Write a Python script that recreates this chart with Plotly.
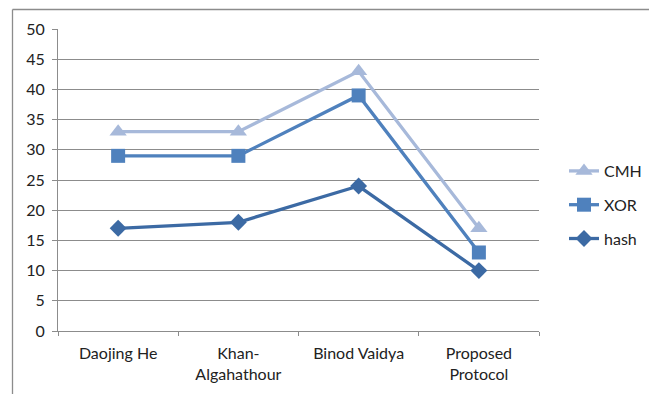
import plotly.graph_objects as go

categories = ["Daojing He", "Khan-<br>Algahathour", "Binod Vaidya", "Proposed<br>Protocol"]
cmh = [33, 33, 43, 17]
xor = [29, 29, 39, 13]
hash_vals = [17, 18, 24, 10]

FONT = "Lato, Calibri, Carlito, sans-serif"
W, H = 649, 394
ML, MR, MT, MB = 58, 110, 29, 63
PW, PH = W - ML - MR, H - MT - MB

series = [
    ("CMH", cmh, "#A7B9DA", "triangle-up", 15),
    ("XOR", xor, "#4F81BD", "square", 14),
    ("hash", hash_vals, "#3C6AA4", "diamond", 13),
]

fig = go.Figure()
for i, (name, vals, color, symbol, msize) in enumerate(series):
    fig.add_trace(go.Scatter(
        x=categories, y=vals, name=name, mode="lines+markers",
        line=dict(color=color, width=3.3),
        marker=dict(symbol=symbol, size=msize, color=color),
        legendgroup=f"g{i}",
    ))


def px_x(px):
    return (px - ML) / PW


def px_y(py):
    return (H - MB - py) / PH


# outer chart frame (left and top edges)
fig.add_shape(type="line", xref="paper", yref="paper",
              x0=px_x(12.5), x1=px_x(660), y0=px_y(9.5), y1=px_y(9.5),
              line=dict(color="#8c8c8c", width=1.3))
fig.add_shape(type="line", xref="paper", yref="paper",
              x0=px_x(12.5), x1=px_x(12.5), y0=px_y(9.5), y1=px_y(400),
              line=dict(color="#8c8c8c", width=1.3))

fig.update_layout(
    width=W, height=H,
    margin=dict(l=ML, r=MR, t=MT, b=MB, autoexpand=False),
    paper_bgcolor="white", plot_bgcolor="white",
    font=dict(family=FONT, size=16, color="#222222"),
    showlegend=True,
    legend=dict(xref="container", yref="container",
                x=564 / W, y=1 - 154 / H, xanchor="left", yanchor="top",
                tracegroupgap=10, traceorder="grouped",
                font=dict(family=FONT, size=16, color="#222222"),
                itemwidth=30, bgcolor="rgba(0,0,0,0)"),
    xaxis=dict(
        type="category", range=[-0.5, 3.5],
        showline=True, linecolor="#8c8c8c", linewidth=1,
        ticks="outside", tickson="boundaries", ticklen=4, tickcolor="#8c8c8c",
        ticklabelstandoff=8,
        showgrid=False, zeroline=False, fixedrange=True,
    ),
    yaxis=dict(
        range=[0, 50], dtick=5, tick0=0,
        showline=True, linecolor="#8c8c8c", linewidth=1,
        ticks="outside", ticklen=5, tickcolor="#8c8c8c",
        ticklabelstandoff=4,
        showgrid=True, gridcolor="#8c8c8c", gridwidth=1,
        zeroline=False, fixedrange=True,
    ),
)

fig.write_html("out.html")
